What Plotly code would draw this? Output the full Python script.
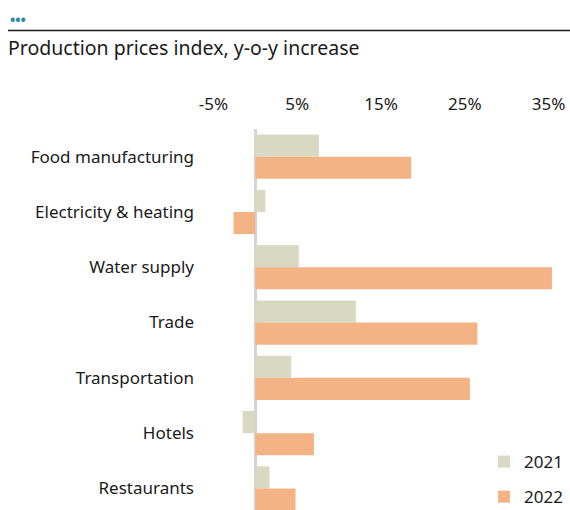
import plotly.graph_objects as go

categories = ["Food manufacturing", "Electricity & heating", "Water supply", "Trade",
              "Transportation", "Hotels", "Restaurants"]
values_2021 = [7.6, 1.2, 5.2, 12.0, 4.3, -1.5, 1.7]
values_2022 = [18.6, -2.6, 35.4, 26.5, 25.6, 7.0, 4.8]
tick_vals = [-5, 5, 15, 25, 35]
tick_text = ["-5%", "5%", "15%", "25%", "35%"]

FONT = "Noto Sans"
W, H = 570, 510
L, R, T = 205, 13, 129
PW = W - L - R
PH = H - T

# helpers: convert page pixel coords to paper coords
def px(x):
    return (x - L) / PW

def py(y):
    return 1 + (T - y) / PH

fig = go.Figure()
fig.add_trace(go.Bar(y=categories, x=values_2021, orientation="h", name="2021",
                     marker=dict(color="#d9d9c3", line=dict(width=0)), legendgroup="a"))
fig.add_trace(go.Bar(y=categories, x=values_2022, orientation="h", name="2022",
                     marker=dict(color="#f4b384", line=dict(width=0)), legendgroup="b"))

fig.update_layout(
    width=W, height=H,
    margin=dict(l=L, r=R, t=T, b=0, autoexpand=False),
    paper_bgcolor="white", plot_bgcolor="white",
    font=dict(family=FONT, size=17, color="#1a1a1a"),
    barmode="group", bargap=0.2, bargroupgap=0,
    xaxis=dict(range=[-6, 36], side="top", tickvals=tick_vals, ticktext=tick_text,
               showgrid=False, zeroline=True, zerolinecolor="#d4d4d4", zerolinewidth=3,
               showline=False, ticks="", ticklabelstandoff=15, tickfont=dict(size=17)),
    yaxis=dict(categoryorder="array", categoryarray=categories, range=[6.39, -0.5],
               showgrid=False, showline=False, ticks="", ticklabelstandoff=10,
               tickfont=dict(size=17)),
    legend=dict(xref="container", yref="container", x=484 / W, y=1 - 444 / H,
                xanchor="left", yanchor="top", traceorder="grouped",
                tracegroupgap=10, font=dict(size=17), bgcolor="rgba(0,0,0,0)"),
    showlegend=True,
)

fig.add_annotation(text="<b>•••</b>", xref="paper", yref="paper", x=px(8), y=py(19.5),
                   xanchor="left", yanchor="middle", showarrow=False,
                   font=dict(size=14, color="#2a8ca0", family=FONT))
fig.add_shape(type="line", xref="paper", yref="paper", x0=px(8), x1=px(570),
              y0=py(30.5), y1=py(30.5), line=dict(color="#1a1a1a", width=1.5))
fig.add_annotation(text="Production prices index, y-o-y increase", xref="paper", yref="paper",
                   x=px(6), y=py(47), xanchor="left", yanchor="middle",
                   showarrow=False, font=dict(size=19.5, color="#1a1a1a", family=FONT))

fig.write_html("out.html", config={"displayModeBar": False},
               post_script="document.body.style.margin='0';document.body.style.overflow='hidden';")
